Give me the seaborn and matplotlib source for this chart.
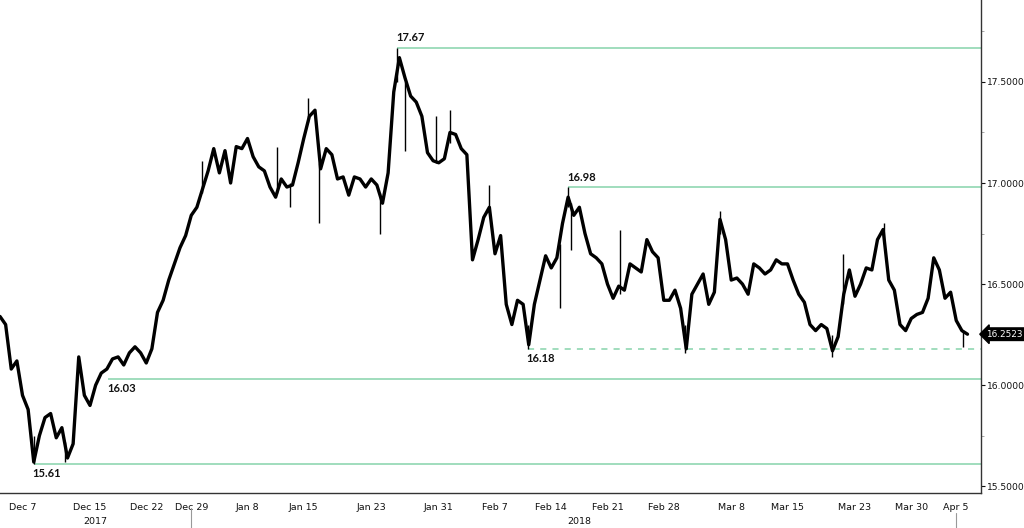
import numpy as np
import pandas as pd
import matplotlib
matplotlib.use('Agg')
import matplotlib.pyplot as plt
import matplotlib.ticker as mticker
import seaborn as sns

# trading calendar: weekdays, Christmas and New Year removed
days = pd.bdate_range('2017-12-05', '2018-04-06')
days = days[~days.isin(pd.to_datetime(['2017-12-25', '2018-01-01']))]

# price, two samples per trading day
price = [16.34, 16.30, 16.08, 16.12, 15.95, 15.88, 15.62, 15.75, 15.84, 15.86,
         15.74, 15.79, 15.64, 15.71, 16.14, 15.95, 15.90, 16.00, 16.06, 16.08,
         16.13, 16.14, 16.10, 16.16, 16.19, 16.16, 16.11, 16.18, 16.36, 16.42,
         16.52, 16.60, 16.68, 16.74, 16.84, 16.88, 16.97, 17.06, 17.17, 17.05,
         17.16, 17.00, 17.18, 17.17, 17.22, 17.13, 17.08, 17.06, 16.98, 16.93,
         17.02, 16.98, 16.99, 17.10, 17.22, 17.33, 17.36, 17.07, 17.17, 17.14,
         17.02, 17.03, 16.94, 17.03, 17.02, 16.98, 17.02, 16.99, 16.90, 17.05,
         17.45, 17.62, 17.52, 17.43, 17.40, 17.33, 17.15, 17.11, 17.10, 17.12,
         17.25, 17.24, 17.17, 17.14, 16.62, 16.72, 16.83, 16.88, 16.65, 16.74,
         16.40, 16.30, 16.42, 16.40, 16.20, 16.40, 16.52, 16.64, 16.58, 16.63,
         16.80, 16.93, 16.84, 16.88, 16.75, 16.65, 16.63, 16.60, 16.50, 16.43,
         16.49, 16.47, 16.60, 16.58, 16.56, 16.72, 16.66, 16.63, 16.42, 16.42,
         16.47, 16.38, 16.18, 16.45, 16.50, 16.55, 16.40, 16.46, 16.82, 16.72,
         16.52, 16.53, 16.50, 16.45, 16.60, 16.58, 16.55, 16.57, 16.62, 16.60,
         16.60, 16.52, 16.45, 16.41, 16.30, 16.27, 16.30, 16.28, 16.17, 16.24,
         16.45, 16.57, 16.44, 16.50, 16.58, 16.57, 16.72, 16.77, 16.52, 16.47,
         16.30, 16.27, 16.33, 16.35, 16.36, 16.43, 16.63, 16.57, 16.43, 16.46,
         16.32, 16.27, 16.2523]
t = np.arange(len(price)) * 0.5

# intraday wicks (trading day, low, high)
spike_day = [3.0, 5.8, 18.0, 24.6, 25.8, 27.4, 28.4, 33.8, 35.3, 36.0, 38.8, 40.0,
             43.5, 46.9, 49.8, 50.5, 50.8, 55.1, 60.9, 64.0, 74.0, 74.9, 78.6, 85.6]
spike_lo = [15.61, 15.62, 16.95, 16.95, 16.88, 17.30, 16.80, 16.75, 17.50, 17.16, 17.10, 17.20,
            16.85, 16.18, 16.38, 16.88, 16.67, 16.45, 16.16, 16.75, 16.14, 16.40, 16.70, 16.19]
spike_hi = [15.75, 15.72, 17.11, 17.18, 17.00, 17.42, 17.10, 16.95, 17.67, 17.50, 17.33, 17.36,
            16.99, 16.30, 16.70, 16.98, 16.90, 16.77, 16.30, 16.86, 16.25, 16.65, 16.80, 16.27]

# support / resistance levels
levels = [17.67, 16.98, 16.18, 16.03, 15.61]
level_start = [35.3, 50.5, 46.9, 9.6, 3.0]
level_above = [True, True, False, False, False]
level_style = ['-', '-', '--', '-', '-']
last_price = 16.2523

tick_dates = ['2017-12-07', '2017-12-15', '2017-12-22', '2017-12-29', '2018-01-08',
              '2018-01-15', '2018-01-23', '2018-01-31', '2018-02-07', '2018-02-14',
              '2018-02-21', '2018-02-28', '2018-03-08', '2018-03-15', '2018-03-23',
              '2018-03-30', '2018-04-05']
tick_labels = ['Dec 7', 'Dec 15', 'Dec 22', 'Dec 29', 'Jan 8', 'Jan 15', 'Jan 23', 'Jan 31',
               'Feb 7', 'Feb 14', 'Feb 21', 'Feb 28', 'Mar 8', 'Mar 15', 'Mar 23', 'Mar 30', 'Apr 5']
tick_pos = [days.get_loc(pd.Timestamp(d)) for d in tick_dates]

sns.set_style('white')
plt.rcParams['font.family'] = ['DejaVu Sans']

fig = plt.figure(figsize=(10.24, 5.28), dpi=100)
ax = fig.add_axes([0.0, 0.0663, 0.958, 0.9337])

green = '#86d3ab'
for lv, st, ab, ls in zip(levels, level_start, level_above, level_style):
    ax.hlines(lv, st, 87.2, color=green, lw=1.1, linestyles=ls if ls == '-' else (0, (4, 4)))
    ax.annotate(f'{lv:.2f}', xy=(st - 0.1, lv), xytext=(0, 3 if ab else -3),
                textcoords='offset points', ha='left', va='bottom' if ab else 'top',
                fontsize=8, fontfamily='Lato', fontweight='bold', color='#111')

ax.vlines(spike_day, spike_lo, spike_hi, color='black', lw=1.0)
sns.lineplot(x=t, y=price, color='black', lw=2.4, ax=ax)

ax.set_xlim(0, 87.2)
ax.set_ylim(15.467, 17.905)

ax.yaxis.tick_right()
ax.yaxis.set_major_locator(mticker.MultipleLocator(0.5))
ax.yaxis.set_minor_locator(mticker.MultipleLocator(0.25))
ax.yaxis.set_major_formatter(mticker.FormatStrFormatter('%.4f'))
ax.tick_params(axis='y', which='major', direction='out', length=3, width=0.8,
               labelsize=6.6, colors='#111', pad=1)
ax.tick_params(axis='y', which='minor', direction='out', length=2, width=0.6, color='#999')

ax.set_xticks(tick_pos)
ax.set_xticklabels(tick_labels)
ax.set_xticks(np.arange(0, 87, 2), minor=True)
ax.tick_params(axis='x', which='major', length=0, labelsize=6.8, colors='#111', pad=7)
ax.tick_params(axis='x', which='minor', direction='in', length=2.5, width=0.6, color='#777')

for s in ['left', 'top']:
    ax.spines[s].set_visible(False)
for s in ['right', 'bottom']:
    ax.spines[s].set_color('#333')
    ax.spines[s].set_linewidth(1)

# year labels and separators under the date axis
trans = ax.get_xaxis_transform()
ax.text(8.45, -0.058, '2017', transform=trans, ha='center', va='center', fontsize=6.8, color='#111')
ax.text(51.5, -0.058, '2018', transform=trans, ha='center', va='center', fontsize=6.8, color='#111')
ax.plot([17, 17], [-0.030, -0.075], transform=trans, color='#999', lw=0.8, clip_on=False)
ax.plot([85, 85], [-0.040, -0.075], transform=trans, color='#999', lw=0.8, clip_on=False)

ax.set_xlabel('')
ax.set_ylabel('')

# last price tag
ax.annotate(f'{last_price:.4f}', xy=(1.0, last_price), xycoords=('axes fraction', 'data'),
            xytext=(4, 0), textcoords='offset points', ha='left', va='center',
            fontsize=6.4, color='white',
            bbox=dict(boxstyle='larrow,pad=0.2', fc='black', ec='black'))

fig.savefig('out.png', dpi=100)
